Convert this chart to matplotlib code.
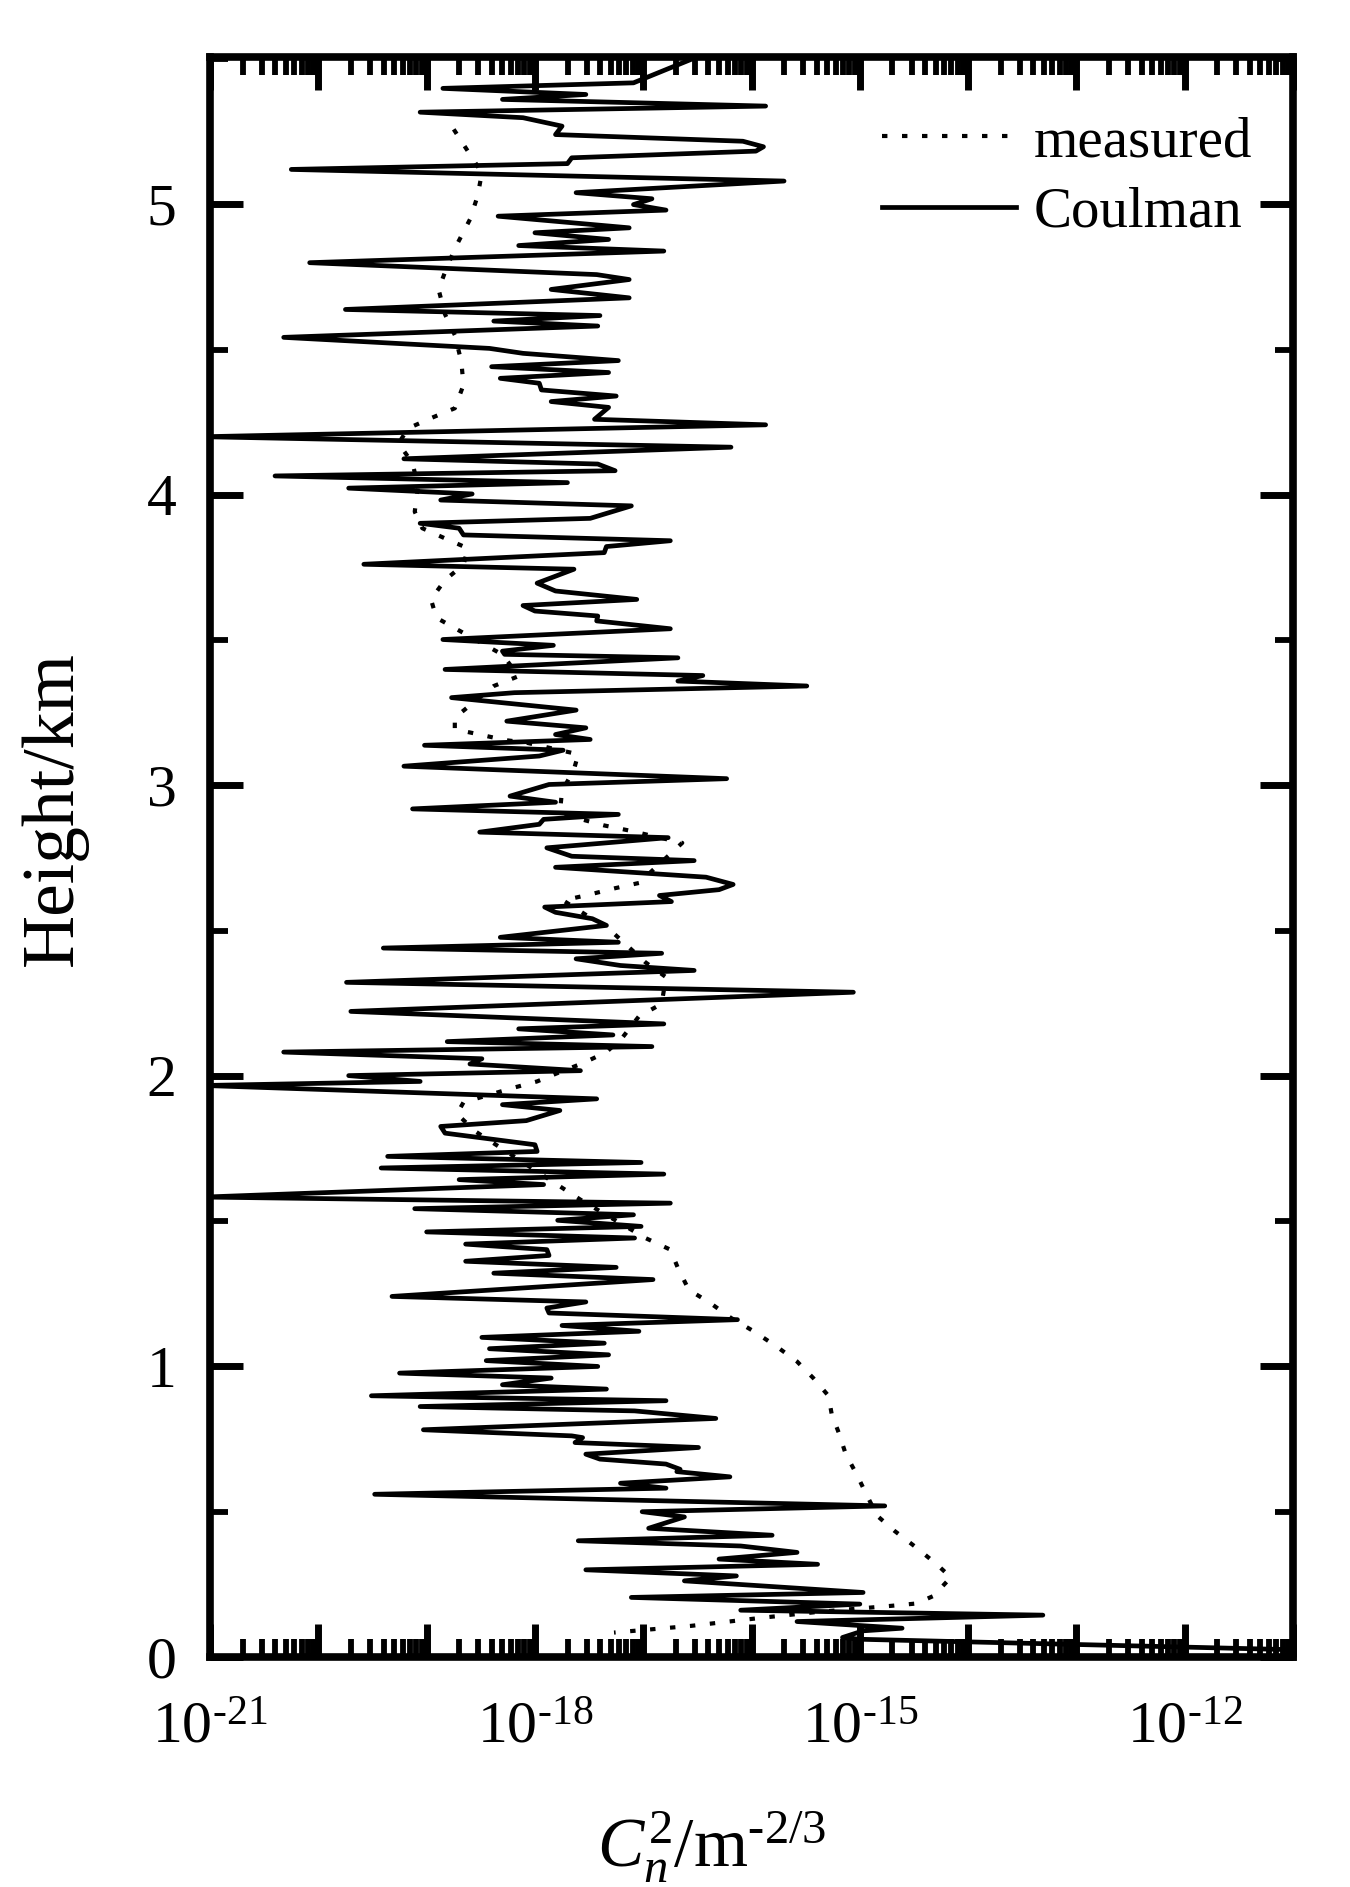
import numpy as np
import matplotlib
matplotlib.use('Agg')
import matplotlib.pyplot as plt
from matplotlib.ticker import LogLocator, FuncFormatter, MultipleLocator, NullFormatter

plt.rcParams['font.family'] = ['Liberation Serif', 'DejaVu Serif']
plt.rcParams['mathtext.fontset'] = 'custom'
plt.rcParams['mathtext.rm'] = 'Liberation Serif'
plt.rcParams['mathtext.it'] = 'Liberation Serif:italic'

# Coulman model: height (km) and log10(Cn2)
coulman_h = [
    5.500, 5.418, 5.399, 5.378, 5.361, 5.338, 5.317, 5.298, 5.269, 5.240,
    5.217, 5.198, 5.183, 5.160, 5.140, 5.120, 5.080, 5.040, 5.019, 4.999,
    4.980, 4.959, 4.919, 4.902, 4.879, 4.858, 4.839, 4.799, 4.758, 4.741,
    4.707, 4.678, 4.638, 4.617, 4.598,
    4.581, 4.542, 4.504, 4.487, 4.462, 4.441, 4.421, 4.401, 4.384, 4.361,
    4.340, 4.321, 4.301, 4.260, 4.241, 4.200, 4.164, 4.124, 4.106, 4.083,
    4.065, 4.042, 4.023, 4.003, 3.982, 3.962, 3.919, 3.902, 3.885, 3.862,
    3.842, 3.822, 3.801, 3.761, 3.744, 3.696,
    3.669, 3.640, 3.619, 3.600, 3.583, 3.566, 3.539, 3.502, 3.482, 3.462,
    3.451, 3.439, 3.399, 3.378, 3.359, 3.342, 3.319, 3.302, 3.259, 3.221,
    3.198, 3.175, 3.158, 3.138, 3.121, 3.101, 3.066, 3.023, 3.003, 2.963,
    2.942, 2.919, 2.900, 2.883, 2.866, 2.839, 2.820, 2.785,
    2.756, 2.741, 2.718, 2.684, 2.659, 2.641, 2.621, 2.600, 2.581, 2.563,
    2.541, 2.518, 2.477, 2.460, 2.440, 2.422, 2.403, 2.380, 2.363, 2.322,
    2.288, 2.222, 2.179, 2.162, 2.141, 2.118, 2.101, 2.082, 2.059, 2.041,
    2.018, 2.001, 1.981, 1.967, 1.921, 1.901, 1.881, 1.846,
    1.826, 1.803, 1.763, 1.740, 1.723, 1.702, 1.683, 1.662, 1.643, 1.626,
    1.583, 1.562, 1.543, 1.522, 1.503, 1.482, 1.463, 1.442, 1.421, 1.402,
    1.382, 1.362, 1.341, 1.321, 1.299, 1.241, 1.222, 1.201, 1.184, 1.161,
    1.141, 1.121, 1.100, 1.080, 1.061, 1.040, 1.020, 1.000, 0.977, 0.960,
    0.937,
    0.922, 0.899, 0.882, 0.862, 0.847, 0.821, 0.782, 0.761, 0.755, 0.738,
    0.721, 0.698, 0.681, 0.664, 0.646, 0.638, 0.620, 0.598, 0.581, 0.560,
    0.520, 0.500, 0.482, 0.443, 0.419, 0.400, 0.382, 0.360, 0.337, 0.319,
    0.300, 0.279, 0.262, 0.222, 0.205, 0.182, 0.161, 0.144, 0.122, 0.099,
    0.090, 0.067, 0.061, 0.025,
]
coulman_lg = [
    -16.55, -17.09, -18.85, -17.53, -18.30, -15.87, -19.06, -18.11, -17.75, -17.81,
    -16.08, -15.89, -15.96, -17.66, -17.70, -20.25, -15.70, -17.62, -16.92, -17.09,
    -16.79, -18.34, -17.13, -18.00, -17.32, -18.15, -16.81, -20.08, -17.43, -17.13,
    -17.85, -17.13, -19.75, -17.40, -18.38,
    -17.42, -20.32, -18.42, -18.11, -17.23, -18.40, -17.32, -18.32, -17.96, -17.94,
    -17.25, -17.85, -17.32, -17.45, -15.87, -21.05, -16.19, -19.21, -17.42, -17.26,
    -20.40, -17.70, -19.72, -18.58, -18.87, -17.11, -17.49, -19.06, -18.70, -18.66,
    -16.75, -17.34, -17.36, -19.58, -17.64, -17.98,
    -17.81, -17.06, -18.11, -18.00, -17.42, -17.43, -16.75, -18.85, -17.83, -18.30,
    -18.28, -16.68, -18.83, -16.45, -16.68, -15.49, -18.19, -18.77, -17.62, -18.26,
    -17.53, -17.81, -17.49, -19.02, -17.74, -17.96, -19.21, -16.23, -17.87, -18.23,
    -17.81, -19.13, -17.23, -17.92, -17.96, -18.51, -16.77, -17.89,
    -17.66, -16.53, -17.81, -16.42, -16.17, -16.30, -16.85, -16.74, -17.91, -17.81,
    -17.47, -17.34, -18.32, -17.23, -19.40, -16.83, -17.62, -17.21, -16.53, -19.74,
    -15.06, -19.70, -16.81, -18.15, -17.28, -18.81, -16.92, -20.32, -18.49, -18.60,
    -17.58, -19.72, -19.06, -21.05, -17.43, -18.30, -17.77, -18.08,
    -18.87, -18.83, -18.00, -17.98, -19.36, -17.02, -19.42, -16.81, -18.70, -17.92,
    -21.05, -16.75, -19.11, -17.09, -17.79, -17.02, -19.00, -17.08, -18.64, -17.89,
    -17.87, -18.64, -17.25, -18.38, -16.91, -19.32, -17.53, -17.89, -17.87, -16.13,
    -17.75, -17.04, -18.49, -17.36, -18.42, -17.32, -18.45, -17.42, -19.25, -17.85,
    -18.30,
    -17.34, -19.51, -16.79, -19.06, -17.08, -16.33, -19.03, -17.66, -17.56, -17.63,
    -16.49, -17.53, -17.40, -16.79, -16.66, -16.69, -16.20, -17.21, -16.79, -19.48,
    -14.77, -17.01, -16.62, -16.95, -15.81, -17.60, -16.10, -15.58, -16.30, -15.39,
    -17.53, -16.14, -16.62, -14.97, -17.11, -15.00, -16.10, -13.31, -15.58, -14.61,
    -14.97, -15.16, -15.00, -11.00,
]

# measured profile: height (km) and log10(Cn2)
measured_h = [
    5.258, 5.183, 5.108, 5.028, 4.948, 4.862, 4.787, 4.707, 4.621, 4.550,
    4.459, 4.378, 4.298, 4.264, 4.229, 4.177, 4.109, 4.028, 3.942, 3.885,
    3.850, 3.816, 3.759, 3.707, 3.640, 3.577, 3.537, 3.450, 3.376, 3.342,
    3.233, 3.193, 3.175, 3.156, 3.147, 3.107, 3.055, 2.980, 2.906, 2.883,
    2.862, 2.843, 2.802, 2.664, 2.646, 2.623, 2.604, 2.500, 2.391, 2.340,
    2.248, 2.205, 2.133, 2.082, 2.045, 2.013, 1.981, 1.958, 1.909, 1.869,
    1.809, 1.763, 1.712, 1.666, 1.620, 1.574, 1.442, 1.402, 1.339, 1.264,
    1.218, 1.167, 1.121, 1.069, 1.017, 0.960, 0.899, 0.836, 0.767, 0.698,
    0.629, 0.560, 0.486, 0.434, 0.377, 0.319, 0.274, 0.210, 0.184, 0.176,
    0.155, 0.136, 0.107, 0.084,
]
measured_lg = [
    -18.75, -18.62, -18.49, -18.53, -18.60, -18.72, -18.81, -18.89, -18.83, -18.74,
    -18.68, -18.66, -18.74, -18.96, -19.17, -19.26, -19.13, -19.08, -19.11, -19.04,
    -18.83, -18.62, -18.66, -18.83, -18.96, -18.91, -18.72, -18.30, -18.15, -18.38,
    -18.74, -18.74, -18.51, -18.28, -18.08, -17.60, -17.64, -17.75, -17.77, -17.57,
    -17.36, -17.11, -16.64, -17.04, -17.26, -17.51, -17.74, -17.30, -16.98, -16.79,
    -16.83, -17.04, -17.19, -17.34, -17.55, -17.77, -17.98, -18.21, -18.66, -18.72,
    -18.55, -18.36, -18.15, -17.96, -17.77, -17.58, -16.98, -16.75, -16.68, -16.58,
    -16.38, -16.19, -15.98, -15.77, -15.58, -15.43, -15.29, -15.26, -15.19, -15.13,
    -15.03, -14.94, -14.84, -14.68, -14.48, -14.29, -14.16, -14.32, -14.48, -14.71,
    -15.39, -15.88, -16.56, -17.27,
]

fig = plt.figure(figsize=(13.5, 18.87), dpi=100)
ax = fig.add_axes([0.1556, 0.1219, 0.8022, 0.8479])

ax.plot(10.0 ** np.array(measured_lg), measured_h, color='black', lw=3.0,
        linestyle=(0, (1.3, 3.5)), label='measured')
ax.plot(10.0 ** np.array(coulman_lg), coulman_h, color='black', lw=3.4,
        linestyle='-', label='Coulman')

ax.set_xscale('log')
ax.set_xlim(1e-21, 1e-11)
ax.set_ylim(0, 5.507)

ax.xaxis.set_major_locator(LogLocator(base=10, numticks=30))
ax.xaxis.set_minor_locator(LogLocator(base=10, subs=np.arange(2, 10), numticks=30))
ax.xaxis.set_minor_formatter(NullFormatter())


def xfmt(v, pos):
    e = int(round(np.log10(v)))
    if e % 3 != 0:
        return ''
    return r'10$^{\text{-%d}}$' % (-e)


ax.xaxis.set_major_formatter(FuncFormatter(xfmt))
ax.yaxis.set_major_locator(MultipleLocator(1))
ax.yaxis.set_minor_locator(MultipleLocator(0.5))

ax.tick_params(which='both', direction='in', top=True, right=True)
ax.tick_params(which='major', length=24, width=5, labelsize=43)
ax.tick_params(which='minor', length=13, width=4.2)
ax.tick_params(axis='x', which='major', pad=32)
ax.tick_params(axis='y', which='major', pad=24)
for s in ax.spines.values():
    s.set_linewidth(5.5)

ax.set_ylabel('Height/km', fontsize=53)
ax.yaxis.set_label_coords(-0.113, 0.53)
ax.set_xlabel(r'$C_n^2$/m$^{\text{-2/3}}$', fontsize=50)
ax.xaxis.set_label_coords(0.463, -0.0955)

ax.legend(loc='upper right', bbox_to_anchor=(0.962, 0.963), frameon=False,
          fontsize=41, handlelength=2.35, handletextpad=0.3, labelspacing=0.33,
          borderaxespad=0, borderpad=0)

fig.savefig('out.png', dpi=100)
